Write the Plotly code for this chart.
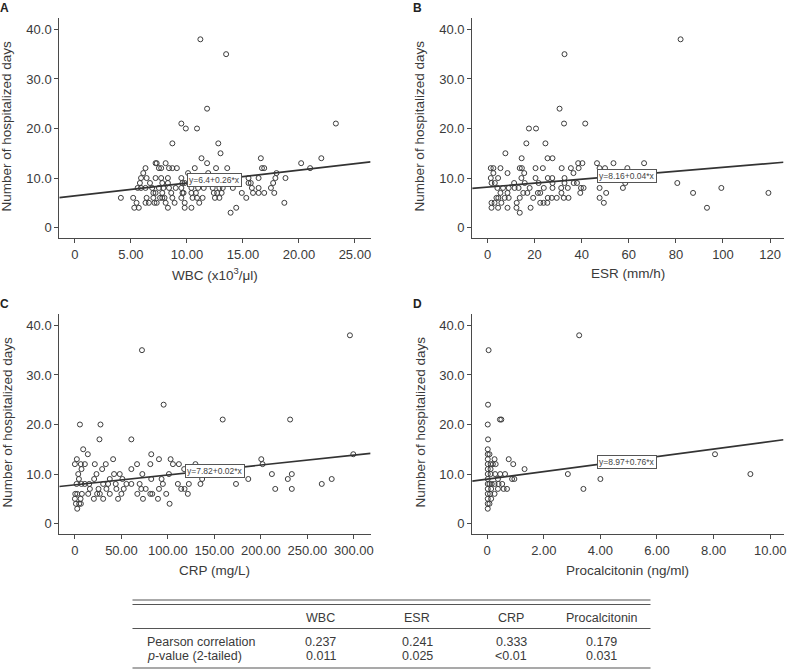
import plotly.graph_objects as go

W, H = 787, 671

# ---------------- data ----------------
wbc_x = [11.2, 13.5, 11.8, 23.3, 9.5, 9.9, 10.9, 8.7, 12.8, 13.0, 11.3, 16.6, 22.0, 20.2,
         7.2, 7.3, 8.1, 11.8,
         6.3, 7.5, 7.7, 8.4, 8.7, 9.1, 10.7, 12.6, 13.6, 16.7, 16.9, 21.0,
         6.1, 10.1, 11.9, 18.0,
         5.9, 6.4, 7.2, 7.7, 8.3, 9.5, 15.5, 16.4, 17.9, 18.8,
         5.8, 6.7, 7.8, 8.3, 9.6, 9.8, 15.5, 15.7, 17.7,
         5.6, 5.9, 6.3, 6.9, 7.5, 7.9, 8.4, 9.0, 9.5, 10.4, 11.0, 11.5, 12.3, 12.9, 13.2, 14.1, 15.8, 16.4, 17.5,
         7.0, 7.2, 7.8, 8.6, 9.6, 9.7, 10.4, 10.8, 12.4, 12.7, 13.1, 14.9, 15.9, 16.4, 16.9, 17.8,
         4.1, 5.2, 6.4, 7.0, 7.6, 7.8, 8.0, 8.7, 9.5, 10.5, 10.9, 11.4, 12.5, 12.9, 15.3,
         5.5, 6.3, 6.6, 7.1, 7.3, 8.1, 8.9, 9.8, 11.1, 18.7,
         5.3, 5.7, 8.3, 9.8, 10.4, 14.4,
         13.9]
wbc_days = [38, 35, 24, 21, 21, 20, 20, 17, 17, 15, 14, 14, 14, 13,
            13, 13, 13, 13,
            12, 12, 12, 12, 12, 12, 12, 12, 12, 12, 12, 12,
            11, 11, 11, 11,
            10, 10, 10, 10, 10, 10, 10, 10, 10, 10,
            9, 9, 9, 9, 9, 9, 9, 9, 9,
            8, 8, 8, 8, 8, 8, 8, 8, 8, 8, 8, 8, 8, 8, 8, 8, 8, 8, 8,
            7, 7, 7, 7, 7, 7, 7, 7, 7, 7, 7, 7, 7, 7, 7, 7,
            6, 6, 6, 6, 6, 6, 6, 6, 6, 6, 6, 6, 6, 6, 6,
            5, 5, 5, 5, 5, 5, 5, 5, 5, 5,
            4, 4, 4, 4, 4, 4,
            3]

esr_x = [82, 32.7, 30.6, 32.5, 41.5, 17.6, 20.6, 16.5, 24.6, 7.6, 14.5, 25.5, 27.6,
         38.5, 40.3, 46.5, 53.5, 66.5,
         1.4, 2.5, 5.5, 13.7, 14.6, 20.4, 23.5, 31.5, 35.4, 38.7, 47.6, 49.9, 59.4,
         2.5, 8.5, 15.6, 36.5,
         1.4, 4.5, 14.4, 20.4, 25.6, 27.5, 32.7, 48.2,
         1.7, 3.1, 11.3, 15.8, 21.7, 27.6, 32.7, 36.6, 38.0, 58.5, 80.6,
         4.2, 6.6, 9.0, 11.5, 13.2, 17.9, 23.9, 27.6, 31.3, 34.1, 39.7, 40.8, 47.6, 57.5, 99.3,
         5.5, 8.5, 15.2, 16.9, 21.4, 22.4, 31.4, 39.4, 50.4, 87.3, 119.3,
         3.8, 4.6, 7.3, 9.0, 13.7, 19.4, 25.6, 27.3, 29.4, 32.4, 34.4, 47.6,
         1.7, 3.0, 5.9, 12.4, 22.4, 23.8, 25.4, 49.4,
         1.7, 4.5, 8.5, 12.3, 18.3, 93.2,
         13.7]
esr_days = [38, 35, 24, 21, 21, 20, 20, 17, 17, 15, 14, 14, 14,
            13, 13, 13, 13, 13,
            12, 12, 12, 12, 12, 12, 12, 12, 12, 12, 12, 12, 12,
            11, 11, 11, 11,
            10, 10, 10, 10, 10, 10, 10, 10,
            9, 9, 9, 9, 9, 9, 9, 9, 9, 9, 9,
            8, 8, 8, 8, 8, 8, 8, 8, 8, 8, 8, 8, 8, 8, 8,
            7, 7, 7, 7, 7, 7, 7, 7, 7, 7, 7,
            6, 6, 6, 6, 6, 6, 6, 6, 6, 6, 6, 6,
            5, 5, 5, 5, 5, 5, 5, 5,
            4, 4, 4, 4, 4, 4,
            3]

crp_x = [295.7, 72.1, 95.4, 158.9, 231.4, 5.4, 27.5, 26.4, 60.7, 8.9, 13.9, 82.1, 299.3,
         2.1, 41.1, 90.4, 102.9, 200.4,
         0.0, 6.4, 10.7, 21.4, 33.2, 66.8, 81.1, 105.4, 111.8, 129.6, 201.8,
         7.1, 29.3, 60.7, 117.5,
         3.6, 23.2, 42.1, 48.2, 72.5, 101.1, 211.8, 233.2,
         4.3, 20.7, 37.5, 51.1, 82.1, 93.2, 136.8, 186.4, 228.9, 276.1,
         1.8, 7.1, 10.7, 15.4, 30.4, 35.7, 43.9, 55.4, 60.7, 69.6, 94.6, 110.7, 122.5, 135.0, 173.2, 265.4,
         16.1, 25.4, 33.9, 44.6, 52.5, 71.4, 76.1, 90.4, 114.3, 117.9, 215.4, 233.2,
         0.4, 2.5, 7.5, 14.3, 23.9, 26.8, 37.5, 50.0, 67.1, 81.1, 83.2, 98.2, 121.4,
         0.0, 6.1, 20.4, 30.4, 46.4, 73.2, 89.3,
         1.1, 4.6, 6.4, 101.8,
         2.5]
crp_days = [38, 35, 24, 21, 21, 20, 20, 17, 17, 15, 14, 14, 14,
            13, 13, 13, 13, 13,
            12, 12, 12, 12, 12, 12, 12, 12, 12, 12, 12,
            11, 11, 11, 11,
            10, 10, 10, 10, 10, 10, 10, 10,
            9, 9, 9, 9, 9, 9, 9, 9, 9, 9,
            8, 8, 8, 8, 8, 8, 8, 8, 8, 8, 8, 8, 8, 8, 8, 8,
            7, 7, 7, 7, 7, 7, 7, 7, 7, 7, 7, 7,
            6, 6, 6, 6, 6, 6, 6, 6, 6, 6, 6, 6, 6,
            5, 5, 5, 5, 5, 5, 5,
            4, 4, 4, 4,
            3]

pct_x = [3.25, 0.05, 0.03, 0.02, 0.45, 0.50, 0.03, 0.02, 0.02, 0.08, 8.05,
         0.02, 0.26, 0.76,
         0.02, 0.12, 0.20, 0.30, 0.92,
         0.02, 0.12, 1.32,
         0.02, 0.12, 0.28, 0.46, 0.63, 2.85, 9.30,
         0.02, 0.38, 0.88, 0.96, 4.00,
         0.02, 0.08, 0.16, 0.26, 0.40, 0.53,
         0.02, 0.14, 0.38, 0.58, 0.70, 3.40,
         0.02, 0.10, 0.26,
         0.02, 0.14,
         0.02, 0.08,
         0.02]
pct_days = [38, 35, 24, 20, 21, 21, 17, 15, 14, 14, 14,
            13, 13, 13,
            12, 12, 12, 12, 12,
            11, 11, 11,
            10, 10, 10, 10, 10, 10, 10,
            9, 9, 9, 9, 9,
            8, 8, 8, 8, 8, 8,
            7, 7, 7, 7, 7, 7,
            6, 6, 6,
            5, 5,
            4, 4,
            3]

# regression (intercept, slope) and equation labels
reg_intercepts = [6.4, 8.16, 7.82, 8.97]
reg_slopes = [0.26, 0.04, 0.02, 0.76]
eq_labels = ["y=6.4+0.26*x", "y=8.16+0.04*x", "y=7.82+0.02*x", "y=8.97+0.76*x"]
eq_pos_x = [12.5, 59.4, 151.0, 4.95]
eq_pos_y = [9.7, 10.4, 10.7, 12.5]

x_titles = ["WBC (x10<sup>3</sup>/μl)", "ESR (mm/h)", "CRP (mg/L)", "Procalcitonin (ng/ml)"]
x_tickvals = [[0, 5, 10, 15, 20, 25], [0, 20, 40, 60, 80, 100, 120],
              [0, 50, 100, 150, 200, 250, 300], [0, 2, 4, 6, 8, 10]]
x_ticktext = [["0", "5.00", "10.00", "15.00", "20.00", "25.00"],
              ["0", "20", "40", "60", "80", "100", "120"],
              ["0", "50.00", "100.00", "150.00", "200.00", "250.00", "300.00"],
              ["0", "2.00", "4.00", "6.00", "8.00", "10.00"]]
y_tickvals = [0, 10, 20, 30, 40]
y_ticktext = ["0", "10.0", "20.0", "30.0", "40.0"]
y_title = "Number of hospitalized days"
panel_letters = ["A", "B", "C", "D"]

table_columns = ["WBC", "ESR", "CRP", "Procalcitonin"]
table_rows = ["Pearson correlation", "<i>p</i>-value (2-tailed)"]
pearson_values = ["0.237", "0.241", "0.333", "0.179"]
p_values = ["0.011", "0.025", "&lt;0.01", "0.031"]

# ---------------- layout geometry (pixels) ----------------
x_ranges = [[-1.4, 26.4], [-6.5, 125.7], [-16.8, 317.9], [-0.53, 10.47]]
y_range = [-2.1, 42.3]
px_boxes = [(59.5, 372, 18, 238), (474, 786.5, 18, 238),
            (59.5, 372, 314, 534), (474, 786.5, 314, 534)]

def px(x):
    return x / W

def py(y):
    return 1 - y / H

FONT = "Liberation Sans, Arial, sans-serif"
TXT = "#3a3a3a"
AX = "#4a4a4a"

datasets = [(wbc_x, wbc_days), (esr_x, esr_days), (crp_x, crp_days), (pct_x, pct_days)]

fig = go.Figure()
layout = dict(
    width=W, height=H, margin=dict(l=0, r=0, t=0, b=0),
    paper_bgcolor="white", plot_bgcolor="white", showlegend=False,
    font=dict(family=FONT, color=TXT, size=13),
)
annotations = []
shapes = []

for i in range(4):
    sfx = "" if i == 0 else str(i + 1)
    xa, ya = "x" + sfx, "y" + sfx
    xs, ys = datasets[i]
    fig.add_trace(go.Scatter(
        x=xs, y=ys, mode="markers", xaxis=xa, yaxis=ya,
        marker=dict(symbol="circle-open", size=5, color="#3c3c3c", line=dict(width=1)),
        hoverinfo="skip"))
    x0, x1 = x_ranges[i]
    fig.add_trace(go.Scatter(
        x=[x0, x1],
        y=[reg_intercepts[i] + reg_slopes[i] * x0, reg_intercepts[i] + reg_slopes[i] * x1],
        mode="lines", xaxis=xa, yaxis=ya, line=dict(color="#333333", width=1.7),
        hoverinfo="skip"))
    l, r, t, b = px_boxes[i]
    layout["xaxis" + sfx] = dict(
        domain=[px(l), px(r)], range=x_ranges[i], anchor=ya,
        showline=True, linecolor=AX, linewidth=1, ticks="outside", ticklen=4,
        tickcolor=AX, tickwidth=1, showgrid=False, zeroline=False,
        tickvals=x_tickvals[i], ticktext=x_ticktext[i],
        tickfont=dict(size=13, color=TXT, family=FONT), fixedrange=True)
    layout["yaxis" + sfx] = dict(
        domain=[py(b), py(t)], range=y_range, anchor=xa,
        showline=True, linecolor=AX, linewidth=1, ticks="outside", ticklen=4,
        tickcolor=AX, tickwidth=1, showgrid=False, zeroline=False,
        tickvals=y_tickvals, ticktext=y_ticktext,
        tickfont=dict(size=13, color=TXT, family=FONT), fixedrange=True)
    # equation label
    annotations.append(dict(
        x=eq_pos_x[i], y=eq_pos_y[i], xref=xa, yref=ya, text=eq_labels[i],
        showarrow=False, font=dict(size=8.5, color="#444", family=FONT),
        bgcolor="white", bordercolor="#555", borderwidth=1, borderpad=1))
    # axis titles
    cx = (l + r) / 2
    annotations.append(dict(
        x=px(cx), y=py(b + 36), xref="paper", yref="paper", text=x_titles[i],
        showarrow=False, xanchor="center", yanchor="middle",
        font=dict(size=13.5, color=TXT, family=FONT)))
    annotations.append(dict(
        x=px(l - 52), y=py((t + b) / 2 - 2), xref="paper", yref="paper", text=y_title,
        showarrow=False, xanchor="center", yanchor="middle", textangle=-90,
        font=dict(size=13.5, color=TXT, family=FONT)))
    # panel letter
    annotations.append(dict(
        x=px(l - 55), y=py(t - 10), xref="paper", yref="paper",
        text="<b>" + panel_letters[i] + "</b>",
        showarrow=False, xanchor="center", yanchor="middle",
        font=dict(size=12, color="#222", family=FONT)))

# ---------------- table ----------------
tbl_l, tbl_r = 133, 653
for yline, wdt in [(600, 1), (604.5, 1), (628.5, 1), (668, 1.2)]:
    shapes.append(dict(type="line", xref="paper", yref="paper",
                       x0=px(tbl_l), x1=px(tbl_r), y0=py(yline), y1=py(yline),
                       line=dict(color="#555", width=wdt)))
col_centers = [322, 419, 513, 604]
for j, c in enumerate(table_columns):
    annotations.append(dict(x=px(col_centers[j]), y=py(617.5), xref="paper", yref="paper",
                            text=c, showarrow=False, xanchor="center", yanchor="middle",
                            font=dict(size=12.5, color=TXT, family=FONT)))
    annotations.append(dict(x=px(col_centers[j]), y=py(641.5), xref="paper", yref="paper",
                            text=pearson_values[j], showarrow=False, xanchor="center",
                            yanchor="middle", font=dict(size=12.5, color=TXT, family=FONT)))
    annotations.append(dict(x=px(col_centers[j]), y=py(656), xref="paper", yref="paper",
                            text=p_values[j], showarrow=False, xanchor="center",
                            yanchor="middle", font=dict(size=12.5, color=TXT, family=FONT)))
for k, rlab in enumerate(table_rows):
    annotations.append(dict(x=px(146), y=py([641.5, 656][k]), xref="paper", yref="paper",
                            text=rlab, showarrow=False, xanchor="left", yanchor="middle",
                            font=dict(size=12.5, color=TXT, family=FONT)))

layout["annotations"] = annotations
layout["shapes"] = shapes
fig.update_layout(**layout)
fig.write_html("out.html", config={"displayModeBar": False},
               post_script="document.body.style.margin='0';document.body.style.padding='0';"
                           "document.body.style.overflow='hidden';")
